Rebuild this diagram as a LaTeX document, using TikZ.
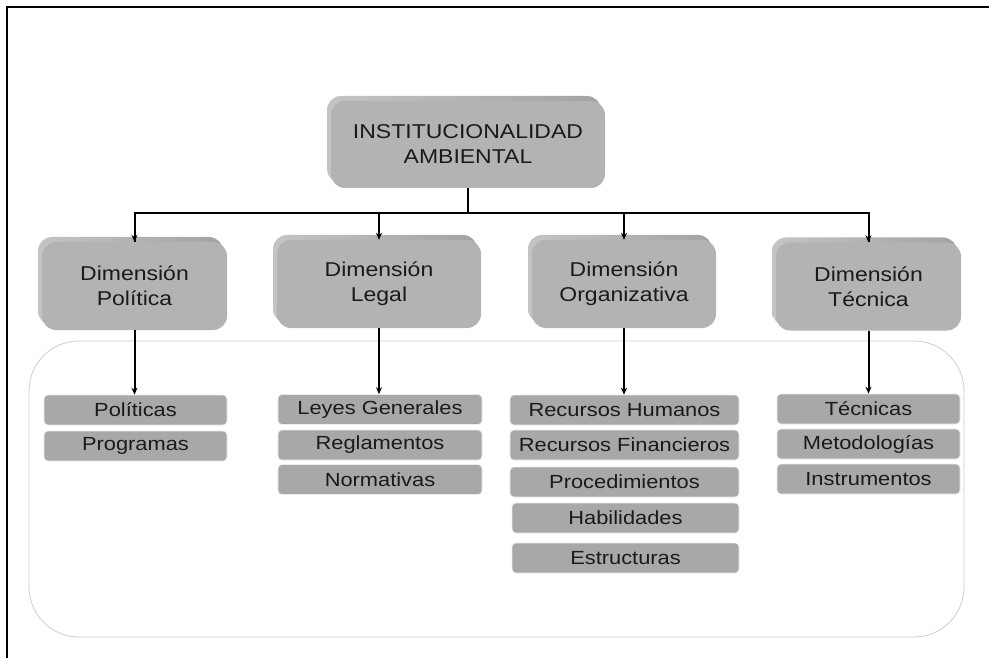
\documentclass[tikz,border=0pt]{standalone}
\usepackage{fontspec}
\setmainfont{Liberation Sans}[FakeStretch=1.15]
\usetikzlibrary{arrows.meta,shadows}
\definecolor{faceg}{HTML}{B3B3B3}
\definecolor{backg}{HTML}{A3A3A3}
\definecolor{backl}{HTML}{C4C4C4}
\definecolor{subg}{HTML}{A8A8A8}
\definecolor{txt}{HTML}{1A1A1A}
\tikzset{
  bigbox/.style={fill=faceg, rounded corners=14pt, inner sep=0pt, align=center,
    text=txt, font=\fontsize{20}{25}\selectfont, minimum height=88pt,
    general shadow={left color=backl, right color=backg, shadow xshift=-4pt, shadow yshift=5pt}},
  subbox/.style={fill=subg, draw=white!85!gray, line width=0.6pt, rounded corners=4pt,
    inner sep=0pt, minimum height=30pt, text=txt, font=\fontsize{19}{22}\selectfont},
  conn/.style={line width=2pt, black},
  arr/.style={conn, -{Stealth[length=7pt,width=6pt]}}
}
\begin{document}
\begin{tikzpicture}[x=1pt,y=-1pt]
\useasboundingbox (0,0) rectangle (989,658);
% frame
\draw[line width=2pt] (7,658) -- (7,7) -- (989,7);
% grouping rounded rectangle
\draw[gray!40, line width=0.8pt, rounded corners=50pt] (29,341) rectangle (964,637);
% top
\node[bigbox, minimum width=274pt, minimum height=87pt] (top) at (468,144.5) {INSTITUCIONALIDAD\\AMBIENTAL};
% dimensions
\node[bigbox, minimum width=185pt] (dp) at (134.5,286) {Dimensión\\Política};
\node[bigbox, minimum width=204pt] (dl) at (379,284) {Dimensión\\Legal};
\node[bigbox, minimum width=184pt] (do) at (624,284) {Dimensión\\Organizativa};
\node[bigbox, minimum width=185pt] (dt) at (868.5,286.5) {Dimensión\\Técnica};
% connectors from top
\draw[conn] (top.south) -- ++(0,25) coordinate (bus);
\draw[conn] (bus) -| (dp.north);
\draw[conn] (bus) -| (dt.north);
\draw[arr] (bus -| dp.north) -- (dp.north);
\draw[arr] (bus -| dl.north) -- (dl.north);
\draw[arr] (bus -| do.north) -- (do.north);
\draw[arr] (bus -| dt.north) -- (dt.north);
% sub boxes: Politica
\node[subbox, minimum width=183pt] (p1) at (135.5,410) {Políticas};
\node[subbox, minimum width=183pt] (p2) at (135.5,446) {Programas};
% Legal
\node[subbox, minimum width=204pt] (l1) at (380,409.5) {Leyes Generales};
\node[subbox, minimum width=204pt] (l2) at (380,445) {Reglamentos};
\node[subbox, minimum width=204pt] (l3) at (380,479.5) {Normativas};
% Organizativa
\node[subbox, minimum width=229pt] (o1) at (624.5,410) {Recursos Humanos};
\node[subbox, minimum width=229pt] (o2) at (624.5,445) {Recursos Financieros};
\node[subbox, minimum width=229pt] (o3) at (624.5,482) {Procedimientos};
\node[subbox, minimum width=227pt] (o4) at (625.5,518) {Habilidades};
\node[subbox, minimum width=227pt] (o5) at (625.5,558) {Estructuras};
% Tecnica
\node[subbox, minimum width=183pt] (t1) at (868.5,409) {Técnicas};
\node[subbox, minimum width=183pt] (t2) at (868.5,444) {Metodologías};
\node[subbox, minimum width=183pt] (t3) at (868.5,479) {Instrumentos};
% arrows down
\draw[arr] (dp.south) -- (dp.south |- p1.north);
\draw[arr] (dl.south) -- (dl.south |- l1.north);
\draw[arr] (do.south) -- (do.south |- o1.north);
\draw[arr] (dt.south) -- (dt.south |- t1.north);
\end{tikzpicture}
\end{document}
